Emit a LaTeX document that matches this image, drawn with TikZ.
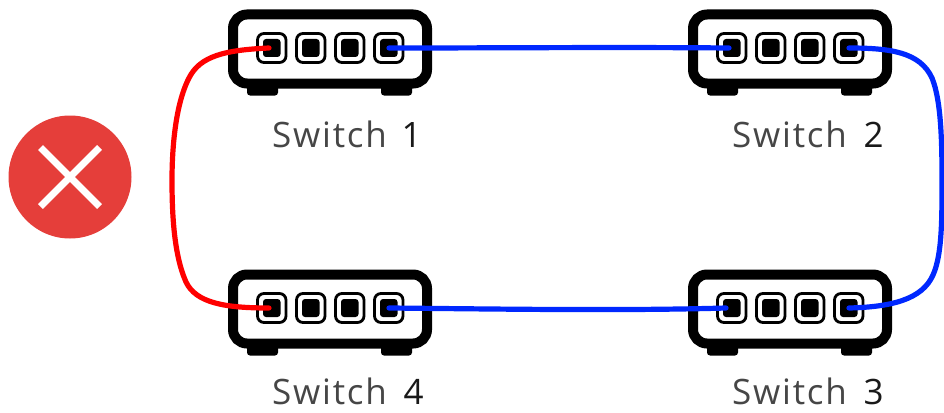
\documentclass[tikz,border=0pt]{standalone}
\usepackage{fontspec}
\setmainfont{Open Sans}
\newfontfamily\lblfont[LetterSpace=5]{Open Sans}
\definecolor{linkred}{RGB}{255,0,0}
\definecolor{linkblue}{RGB}{0,40,255}
\definecolor{xred}{RGB}{229,62,58}
\definecolor{lblgray}{RGB}{70,70,70}
\definecolor{digit}{RGB}{25,25,25}
\tikzset{
  body/.style={draw=black,line width=10pt,fill=white,rounded corners=14pt},
  foot/.style={fill=black,rounded corners=3pt},
  portouter/.style={draw=black,line width=2.8pt,fill=white,rounded corners=6.5pt},
  portinner/.style={fill=black,rounded corners=3pt},
  link/.style={line width=5.2pt,line cap=round},
  redlink/.style={link,draw=linkred},
  bluelink/.style={link,draw=linkblue},
  lbl/.style={inner sep=0pt,anchor=base west,font=\lblfont\fontsize{35}{38}\selectfont,text=lblgray},
  switchicon/.pic={
    \fill[foot] (19,70) rectangle (50,86);
    \fill[foot] (153,70) rectangle (184,86);
    \draw[body] (5,5) rectangle (199,74);
    \foreach \i in {0,1,2,3}{
      \draw[portouter] ({29.5+39*\i},24) rectangle ({58+39*\i},53);
      \fill[portinner] ({35*1+39*\i},29.5) rectangle ({52.5+39*\i},47.5);
    }
    \coordinate (-a) at (41,38.5);
    \coordinate (-b) at (161,38.5);
  }
}
\begin{document}
\begin{tikzpicture}[x=1pt,y=-1pt]
\useasboundingbox (0,0) rectangle (944,412);
\pic (s1) at (228,9.5) {switchicon};
\pic (s2) at (688,9.5) {switchicon};
\pic (s4) at (228,269.5) {switchicon};
\pic (s3) at (688,269.5) {switchicon};
\draw[redlink] (s1-a) .. controls (225,50) and (200,56) .. (189,78)
  .. controls (175,105) and (172,150) .. (172,180)
  .. controls (172,215) and (174,255) .. (186,282)
  .. controls (196,303) and (225,308) .. (s4-a);
\draw[bluelink] (s1-b) .. controls (500,48) and (620,47) .. (s2-a);
\draw[bluelink] (s4-b) .. controls (500,309) and (620,311) .. ([xshift=-3pt]s3-a);
\draw[bluelink] (s2-b) .. controls (890,48) and (920,52) .. (932,78)
  .. controls (941,100) and (942,140) .. (942,180)
  .. controls (942,220) and (942,255) .. (933,275)
  .. controls (922,300) and (890,307) .. (s3-b);
\node[lbl] (l1) at (272,147.5) {Switch\hspace{15pt}\textcolor{digit}{1}};
\node[lbl] (l2) at (732,147.5) {Switch\hspace{17pt}\textcolor{digit}{2}};
\node[lbl] (l4) at (272,404) {Switch\hspace{17pt}\textcolor{digit}{4}};
\node[lbl] (l3) at (732,404) {Switch\hspace{17pt}\textcolor{digit}{3}};
\node[circle,fill=xred,minimum size=123pt,inner sep=0pt] (err) at (70,177) {};
\draw[white,line width=7pt] (err.center)+(-29.5,-29.5) -- +(29.5,29.5);
\draw[white,line width=7pt] (err.center)+(-29.5,29.5) -- +(29.5,-29.5);
\end{tikzpicture}
\end{document}
